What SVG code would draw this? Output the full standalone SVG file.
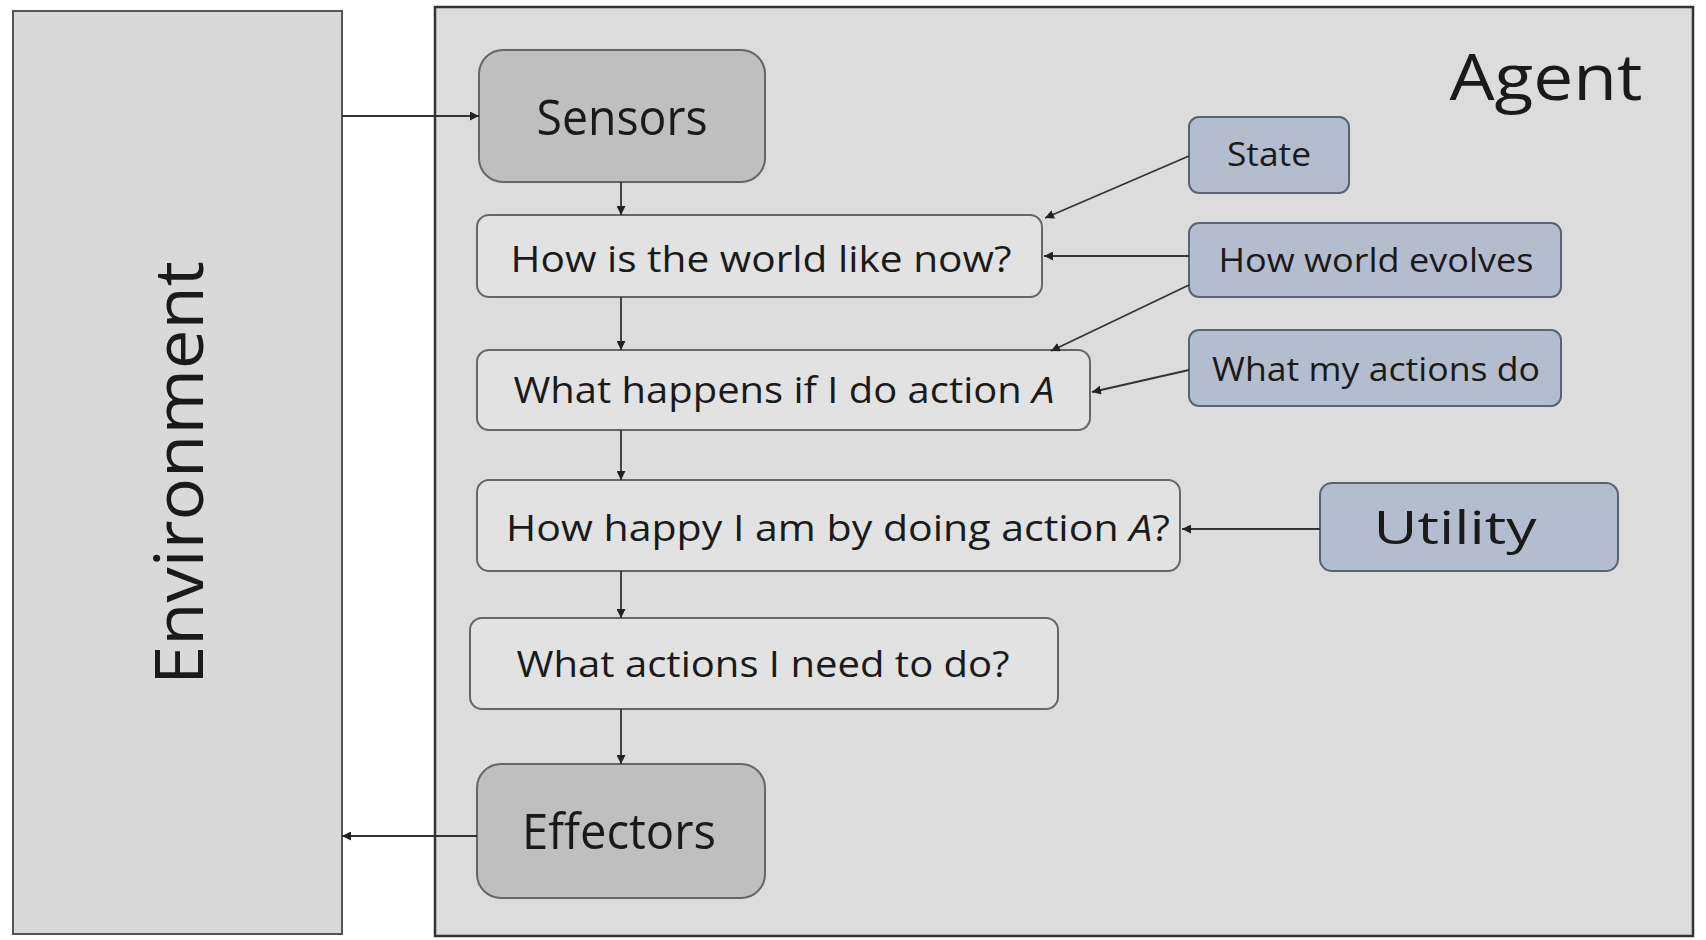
<svg xmlns="http://www.w3.org/2000/svg" width="1706" height="940" viewBox="0 0 1706 940">
<defs>
<marker id="ah" viewBox="0 0 10 10" refX="10" refY="5" markerWidth="9" markerHeight="9" markerUnits="userSpaceOnUse" orient="auto">
<path d="M0,0 L10,5 L0,10 z" fill="#222"/>
</marker>
</defs>
<style>
text{font-family:"Open Sans","Liberation Sans",sans-serif;fill:#1a1a1a;text-anchor:middle}
.gray{fill:#bfbfbf;stroke:#666;stroke-width:2}
.light{fill:#e2e2e2;stroke:#666;stroke-width:2}
.blue{fill:#b3bdcd;stroke:#5a6372;stroke-width:2}
.conn{stroke:#333;stroke-width:1.8;fill:none;marker-end:url(#ah)}
.big{font-size:50px}
.mid{font-size:37px}
.small{font-size:32px}
</style>
<rect width="1706" height="940" fill="#ffffff"/>
<g id="environment">
<rect x="13" y="11" width="329" height="923" fill="#d9d9d9" stroke="#555" stroke-width="2"/>
<text transform="translate(203,473) rotate(-90)" font-size="68" textLength="424" lengthAdjust="spacingAndGlyphs">Environment</text>
</g>
<g id="agent">
<rect x="435" y="7" width="1258" height="929" fill="#dcdcdc" stroke="#333" stroke-width="2.5"/>
<text x="1546" y="100" font-size="64" textLength="193" lengthAdjust="spacingAndGlyphs">Agent</text>
</g>
<g id="sensors">
<rect class="gray" x="479" y="50" width="286" height="132" rx="24"/>
<text class="big" x="622" y="135" textLength="171" lengthAdjust="spacingAndGlyphs">Sensors</text>
</g>
<g id="world-now">
<rect class="light" x="477" y="215" width="565" height="82" rx="12"/>
<text class="mid" x="761" y="272" textLength="501" lengthAdjust="spacingAndGlyphs">How is the world like now?</text>
</g>
<g id="what-happens">
<rect class="light" x="477" y="350" width="613" height="80" rx="12"/>
<text class="mid" x="784" y="403" textLength="541" lengthAdjust="spacingAndGlyphs">What happens if I do action <tspan font-style="italic">A</tspan></text>
</g>
<g id="how-happy">
<rect class="light" x="477" y="480" width="703" height="91" rx="12"/>
<text class="mid" x="838" y="541" textLength="664" lengthAdjust="spacingAndGlyphs">How happy I am by doing action <tspan font-style="italic">A</tspan>?</text>
</g>
<g id="what-actions">
<rect class="light" x="470" y="618" width="588" height="91" rx="12"/>
<text class="mid" x="763" y="677" textLength="493" lengthAdjust="spacingAndGlyphs">What actions I need to do?</text>
</g>
<g id="effectors">
<rect class="gray" x="477" y="764" width="288" height="134" rx="24"/>
<text class="big" x="619" y="849" textLength="194" lengthAdjust="spacingAndGlyphs">Effectors</text>
</g>
<g id="state">
<rect class="blue" x="1189" y="117" width="160" height="76" rx="10"/>
<text class="small" x="1269" y="166" textLength="84" lengthAdjust="spacingAndGlyphs">State</text>
</g>
<g id="world-evolves">
<rect class="blue" x="1189" y="223" width="372" height="74" rx="10"/>
<text class="small" x="1376" y="272" textLength="315" lengthAdjust="spacingAndGlyphs">How world evolves</text>
</g>
<g id="actions-do">
<rect class="blue" x="1189" y="330" width="372" height="76" rx="10"/>
<text class="small" x="1376" y="381" textLength="328" lengthAdjust="spacingAndGlyphs">What my actions do</text>
</g>
<g id="utility">
<rect class="blue" x="1320" y="483" width="298" height="88" rx="12"/>
<text x="1455" y="544" font-size="46" textLength="163" lengthAdjust="spacingAndGlyphs">Utility</text>
</g>
<g id="connectors">
<line class="conn" x1="342" y1="116" x2="479" y2="116"/>
<line class="conn" x1="477" y1="836" x2="342" y2="836"/>
<line class="conn" x1="621" y1="182" x2="621" y2="215"/>
<line class="conn" x1="621" y1="297" x2="621" y2="350"/>
<line class="conn" x1="621" y1="430" x2="621" y2="480"/>
<line class="conn" x1="621" y1="571" x2="621" y2="618"/>
<line class="conn" x1="621" y1="709" x2="621" y2="764"/>
<line class="conn" x1="1189" y1="156" x2="1045" y2="218"/>
<line class="conn" x1="1189" y1="256" x2="1044" y2="256"/>
<line class="conn" x1="1189" y1="285" x2="1051" y2="351"/>
<line class="conn" x1="1189" y1="370" x2="1092" y2="392"/>
<line class="conn" x1="1320" y1="529" x2="1182" y2="529"/>
</g>
</svg>
